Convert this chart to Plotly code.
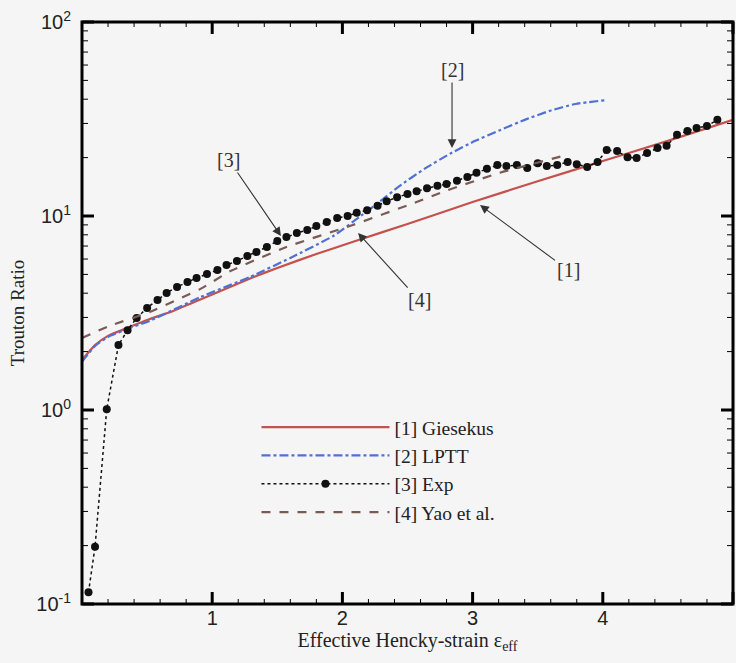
import math
import plotly.graph_objects as go

# Giesekus model [1]
gies_x = [0.0, 0.1, 0.2, 0.35, 0.5, 0.7, 0.9, 1.1, 1.3, 1.5, 1.8, 2.1, 2.5, 3.0, 3.5, 4.0, 4.5, 5.0]
gies_y = [1.81, 2.16, 2.41, 2.65, 2.91, 3.24, 3.69, 4.21, 4.79, 5.40, 6.37, 7.43, 9.10, 11.8, 15.1, 19.2, 24.4, 31.3]

# Linear PTT model [2]
lptt_x = [0.0, 0.1, 0.2, 0.35, 0.52, 0.91, 1.29, 1.60, 1.93, 2.14, 2.29, 2.44, 2.63, 2.83, 3.02, 3.21, 3.40, 3.59, 3.79, 4.03]
lptt_y = [1.77, 2.14, 2.38, 2.62, 2.88, 3.82, 4.85, 6.08, 7.89, 10.0, 11.9, 14.3, 17.5, 21.0, 24.4, 27.7, 31.3, 34.8, 37.8, 39.6]

# Experimental data [3]
exp_x = [0.05, 0.10, 0.19, 0.28,
         0.35, 0.42, 0.50, 0.58, 0.65, 0.73, 0.81, 0.88, 0.96, 1.04,
         1.11, 1.19, 1.27, 1.34, 1.42, 1.50, 1.57, 1.65, 1.73, 1.80,
         1.88, 1.96, 2.04, 2.11, 2.19, 2.27, 2.34, 2.42, 2.50, 2.57,
         2.65, 2.73, 2.80, 2.88, 2.96, 3.03, 3.11, 3.19, 3.26, 3.34,
         3.42, 3.50, 3.57, 3.65, 3.73, 3.80, 3.88, 3.96, 4.03, 4.11,
         4.19, 4.26, 4.34, 4.42, 4.49, 4.57, 4.65, 4.72, 4.80, 4.88]
exp_y = [0.115, 0.197, 1.01, 2.16,
         2.58, 2.98, 3.36, 3.69, 4.01, 4.31, 4.57, 4.79, 5.02, 5.27,
         5.59, 5.86, 6.22, 6.52, 6.92, 7.43, 7.80, 8.17, 8.47, 8.88,
         9.31, 9.77, 10.0, 10.4, 10.7, 11.3, 11.9, 12.5, 13.0, 13.4,
         13.9, 14.3, 14.6, 15.2, 15.9, 16.7, 17.5, 18.3, 18.1, 18.3,
         17.7, 18.7, 18.1, 18.3, 19.0, 18.5, 17.9, 19.0, 21.9, 21.6,
         20.1, 19.9, 21.1, 22.4, 23.0, 26.2, 27.4, 28.4, 29.1, 31.3]

# Yao et al. [4]
yao_x = [0.0, 0.21, 0.52, 0.91, 1.14, 1.57, 2.08, 2.57, 2.77, 3.21, 3.72]
yao_y = [2.35, 2.71, 3.20, 4.21, 5.20, 6.92, 8.99, 11.8, 13.3, 16.7, 20.6]

x_range = [0, 5]
x_ticks = [1, 2, 3, 4, 5]
x_minor = [round(0.2 * i, 1) for i in range(1, 25) if i % 5 != 0]
y_range = [0.1, 100]
y_ticks = [0.1, 1, 10, 100]
y_ticktext = ["10<sup>-1</sup>", "10<sup>0</sup>", "10<sup>1</sup>", "10<sup>2</sup>"]
y_minor = [m * 10.0 ** e for e in (-1, 0, 1) for m in range(2, 10)]

# callouts: label, point (x, y), label offset in px
callouts = [
    ("[1]", 3.057, 11.4, 88, 65),
    ("[2]", 2.842, 22.4, 0, -78),
    ("[3]", 1.528, 7.89, -52, -76),
    ("[4]", 2.12, 8.17, 61, 67),
]

SERIF = "Liberation Serif"
SANS = "Liberation Sans"
AX = "black"
TXT = "#222222"
BG = "#f5f5f5"

fig = go.Figure()
fig.add_trace(go.Scatter(x=gies_x, y=gies_y, mode="lines", name="[1] Giesekus",
                         line=dict(color="#c4514c", width=2.2, shape="spline", smoothing=0.5)))
fig.add_trace(go.Scatter(x=lptt_x, y=lptt_y, mode="lines", name="[2] LPTT",
                         line=dict(color="#4f70d4", width=2.2, dash="dashdot", shape="spline", smoothing=0.5)))
fig.add_trace(go.Scatter(x=exp_x, y=exp_y, mode="lines+markers", name="[3] Exp",
                         line=dict(color="#111111", width=1.5, dash="dot"),
                         marker=dict(color="#111111", size=8, symbol="circle")))
fig.add_trace(go.Scatter(x=yao_x, y=yao_y, mode="lines", name="[4] Yao et al.",
                         line=dict(color="#7b5a55", width=2.2, dash="dash", shape="spline", smoothing=0.5)))

for text, px, py, dx, dy in callouts:
    fig.add_annotation(x=px, y=math.log10(py), xref="x", yref="y", text=text, showarrow=True,
                       ax=dx, ay=dy, arrowhead=2, arrowsize=1.6, arrowwidth=1.1,
                       arrowcolor="#333333", font=dict(family=SERIF, size=20, color="#333333"))

# Boxed frame with inward tick marks on all four sides
def y_frac(v):
    lo, hi = math.log10(y_range[0]), math.log10(y_range[1])
    return (math.log10(v) - lo) / (hi - lo)

def x_frac(v):
    return (v - x_range[0]) / (x_range[1] - x_range[0])

frame = dict(color=AX, width=3)
fig.add_shape(type="rect", xref="paper", yref="paper", x0=0, x1=1, y0=0, y1=1, line=frame)

def x_tick(v, length, width):
    for anchor, sign in ((0, 1), (1, -1)):
        fig.add_shape(type="line", xref="x domain", yref="y domain", x0=x_frac(v), x1=x_frac(v),
                      ysizemode="pixel", yanchor=anchor, y0=0, y1=sign * length,
                      line=dict(color=AX, width=width))

def y_tick(v, length, width):
    for anchor, sign in ((0, 1), (1, -1)):
        fig.add_shape(type="line", xref="x domain", yref="y domain", y0=y_frac(v), y1=y_frac(v),
                      xsizemode="pixel", xanchor=anchor, x0=0, x1=sign * length,
                      line=dict(color=AX, width=width))

for v in x_ticks:
    x_tick(v, 12, 3)
for v in x_minor:
    x_tick(v, 5, 1)
for v in y_ticks:
    y_tick(v, 12, 3)
for v in y_minor:
    y_tick(v, 6, 1)

fig.update_layout(
    width=736, height=663,
    margin=dict(l=82, r=3, t=22, b=59),
    paper_bgcolor=BG, plot_bgcolor=BG,
    showlegend=True,
    xaxis=dict(
        range=x_range, tickvals=x_ticks,
        ticks="", showline=False, showgrid=False, zeroline=False,
        tickfont=dict(family=SANS, size=20, color=TXT),
        title=dict(text="Effective Hencky-strain ε<sub>eff</sub>", font=dict(family=SERIF, size=20, color=TXT), standoff=2),
    ),
    yaxis=dict(
        type="log", range=[math.log10(y_range[0]), math.log10(y_range[1])],
        tickvals=y_ticks, ticktext=y_ticktext,
        ticks="", showline=False, showgrid=False, zeroline=False,
        ticklabelstandoff=10,
        tickfont=dict(family=SANS, size=20, color=TXT),
        title=dict(text="Trouton Ratio", font=dict(family=SERIF, size=19, color=TXT), standoff=6),
    ),
    legend=dict(x=0.268, y=0.337, xanchor="left", yanchor="top", bgcolor="rgba(0,0,0,0)",
                itemwidth=128, tracegroupgap=0,
                font=dict(family=SERIF, size=19.5, color=TXT)),
)

fig.write_html("out.html")
